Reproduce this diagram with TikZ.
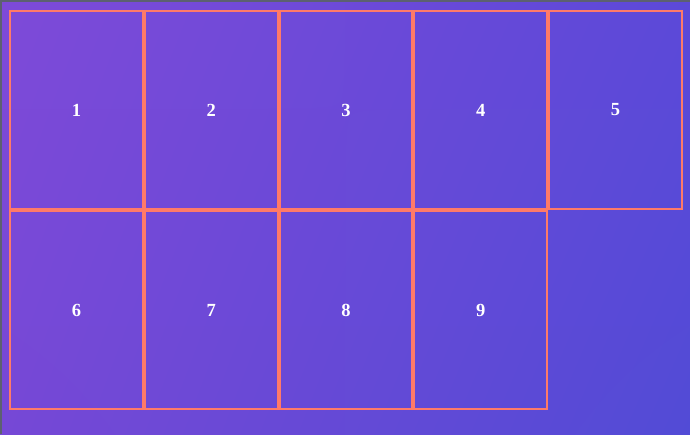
\documentclass[tikz,border=0pt]{standalone}
\usepackage{fontspec}
\setmainfont{Liberation Serif}
\usetikzlibrary{shadings}
\definecolor{bgtl}{RGB}{126,74,216}
\definecolor{bgtr}{RGB}{92,73,216}
\definecolor{bgbl}{RGB}{118,72,214}
\definecolor{bgbr}{RGB}{82,75,214}
\definecolor{edge}{RGB}{255,122,104}
\definecolor{rim}{RGB}{92,96,112}
\tikzset{
  cell/.style={draw=edge, line width=2pt, inner sep=0pt,
    minimum width=132.8pt, minimum height=198pt,
    text=white, font=\fontsize{18.5}{18.5}\selectfont\bfseries}
}
\begin{document}
\begin{tikzpicture}[x=1pt, y=-1pt]
  \useasboundingbox (0, 0) rectangle (690, 434);
  \shade[upper left=bgtl, upper right=bgtr, lower left=bgbl, lower right=bgbr]
    (0, 0) rectangle (690, 434);
  \draw[rim, line width=1.5pt]
    (0.75, 434) -- (0.75, 0.75) -- (690, 0.75);

  % top row
  \node[cell] (c1) at (76.4, 110) {1};
  \node[cell] (c2) at (211.2, 110) {2};
  \node[cell] (c3) at (346, 110) {3};
  \node[cell] (c4) at (480.8, 110) {4};
  \node[cell] (c5) at (615.6, 110) {5};

  % bottom row
  \node[cell] (c6) at (76.4, 310) {6};
  \node[cell] (c7) at (211.2, 310) {7};
  \node[cell] (c8) at (346, 310) {8};
  \node[cell] (c9) at (480.8, 310) {9};
\end{tikzpicture}
\end{document}
